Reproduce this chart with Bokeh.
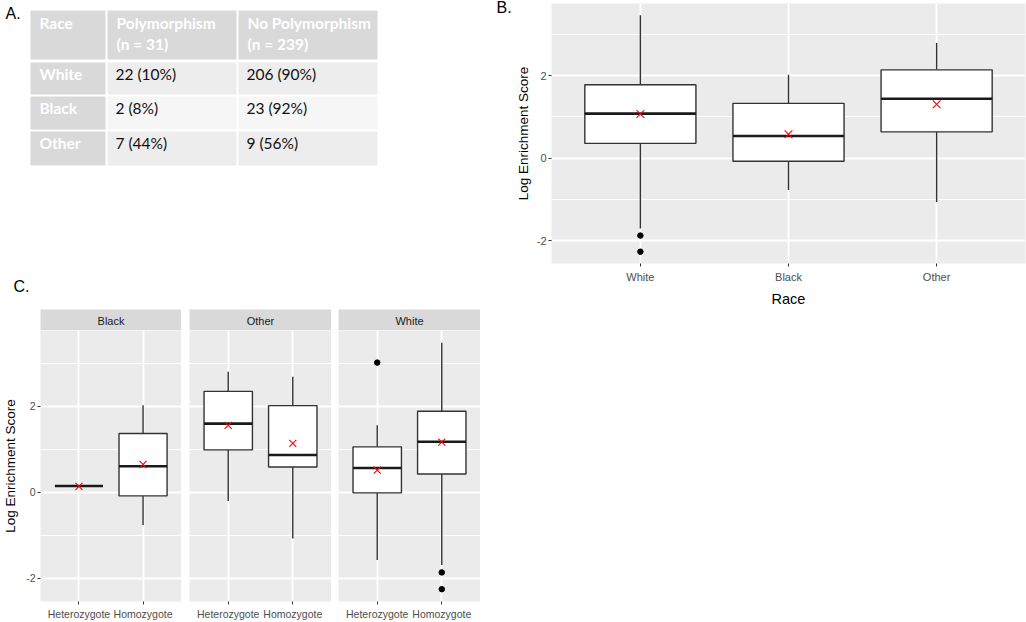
from bokeh.plotting import figure
from bokeh.models import Range1d, FixedTicker, ColumnDataSource, FactorRange, Grid, PrintfTickFormatter
from bokeh.layouts import row, column
from bokeh.transform import dodge
from bokeh.embed import file_html
from bokeh.resources import INLINE
from bokeh.core.properties import value

# ---------------- Data ----------------
# Panel A: table
table_head_1 = ["Race", "Polymorphism", "No Polymorphism"]
table_head_2 = ["", "(n = 31)", "(n = 239)"]
races = ["White", "Black", "Other"]
poly_n = [22, 2, 7]
poly_pct = [10, 8, 44]
nopoly_n = [206, 23, 9]
nopoly_pct = [90, 92, 56]

# Panel B: box plots by race
b_cats = ["White", "Black", "Other"]
b_lower = [-1.70, -0.77, -1.06]
b_q1 = [0.36, -0.07, 0.64]
b_med = [1.08, 0.54, 1.44]
b_q3 = [1.78, 1.33, 2.14]
b_upper = [3.46, 2.02, 2.79]
b_mean = [1.07, 0.58, 1.31]
b_out_cat = ["White", "White"]
b_out_val = [-1.87, -2.26]

# Panel C: box plots by genotype, faceted by race
c_facets = ["Black", "Other", "White"]
c_genotypes = ["Heterozygote", "Homozygote"]
c_facet = ["Black", "Black", "Other", "Other", "White", "White"]
c_geno = ["Heterozygote", "Homozygote"] * 3
c_lower = [0.14, -0.77, -0.21, -1.08, -1.58, -1.70]
c_q1 = [0.14, -0.09, 0.98, 0.58, -0.02, 0.42]
c_med = [0.14, 0.60, 1.59, 0.86, 0.56, 1.17]
c_q3 = [0.14, 1.36, 2.34, 2.01, 1.05, 1.88]
c_upper = [0.14, 2.02, 2.80, 2.68, 1.55, 3.47]
c_mean = [0.13, 0.64, 1.55, 1.13, 0.51, 1.16]
c_out_facet = ["White", "White", "White"]
c_out_geno = ["Heterozygote", "Homozygote", "Homozygote"]
c_out_val = [3.01, -1.87, -2.26]

y_ticks = [-2, 0, 2]
y_minor = [-1, 1, 3]

# ---------------- Styles ----------------
PF = "Liberation Sans"
TF = "Lato"
BG = "#EBEBEB"
LINE = "#333333"


def expand_range(vals):
    lo, hi = min(vals), max(vals)
    pad = 0.05 * (hi - lo)
    return Range1d(lo - pad, hi + pad)


def style_plot(p, tick_size):
    p.background_fill_color = BG
    p.border_fill_color = "white"
    p.outline_line_color = None
    for ax in p.axis:
        ax.axis_line_color = None
        ax.major_tick_line_color = LINE
        ax.major_tick_out = 3
        ax.major_tick_in = 0
        ax.minor_tick_line_color = None
        ax.major_label_text_color = "#4D4D4D"
        ax.major_label_text_font = PF
        ax.major_label_text_font_size = tick_size
        ax.axis_label_text_font = PF
        ax.axis_label_text_font_style = "normal"
        ax.axis_label_text_color = "black"
    p.xgrid.grid_line_color = "white"
    p.xgrid.grid_line_width = 1.8
    if len(p.ygrid) == 0:
        p.add_layout(Grid(dimension=1, ticker=FixedTicker(ticks=y_ticks, minor_ticks=y_minor)))
    p.ygrid.ticker = FixedTicker(ticks=y_ticks, minor_ticks=y_minor)
    p.ygrid.grid_line_color = "white"
    p.ygrid.grid_line_width = 1.8
    p.ygrid.minor_grid_line_color = "white"
    p.ygrid.minor_grid_line_width = 1.0


def draw_boxes(p, cats, lower, q1, med, q3, upper, mean, out_cat, out_val, xsize):
    w = 0.75
    src = ColumnDataSource(dict(cat=cats, lower=lower, q1=q1, med=med, q3=q3,
                                upper=upper, mean=mean))
    p.segment(x0="cat", y0="q3", x1="cat", y1="upper", source=src, line_color=LINE, line_width=1.4)
    p.segment(x0="cat", y0="q1", x1="cat", y1="lower", source=src, line_color=LINE, line_width=1.4)
    p.vbar(x="cat", bottom="q1", top="q3", width=w, source=src, fill_color="white",
           line_color=LINE, line_width=1.4)
    p.segment(x0=dodge("cat", -w / 2, range=p.x_range), y0="med",
              x1=dodge("cat", w / 2, range=p.x_range), y1="med", source=src,
              line_color="#1A1A1A", line_width=2.6)
    if out_cat:
        p.scatter(x=out_cat, y=out_val, size=5.5, fill_color="black", line_color="black")
    p.scatter(x="cat", y="mean", source=src, marker="x", size=xsize, line_color="red",
              line_width=1.1)


def y_axis(p, label, label_size, tick_size, label_standoff):
    p.yaxis.ticker = FixedTicker(ticks=y_ticks)
    p.yaxis.formatter = PrintfTickFormatter(format="%d")
    p.yaxis.axis_label = label
    p.yaxis.axis_label_text_font_size = label_size
    p.yaxis.axis_label_standoff = label_standoff
    p.yaxis.major_label_standoff = 2


# ---------------- Panel A (table) + panel letters ----------------
TW, TH = 512, 309
pt = figure(width=TW, height=TH, x_range=Range1d(0, TW), y_range=Range1d(TH, 0),
            min_border=0, x_axis_location=None, y_axis_location=None,
            outline_line_color=None, background_fill_color="white",
            border_fill_color="white", output_backend="svg", toolbar_location=None)
pt.grid.visible = False

col_edges = [(30, 105), (107, 236), (238, 377)]
row_edges = [(10, 59), (62, 94), (96, 129), (131, 165)]
band = ["#EDEDED", "#F6F6F6", "#EDEDED"]

ql, qr, qt, qb, qc = [], [], [], [], []
for ri, (t, b) in enumerate(row_edges):
    for ci, (l, r) in enumerate(col_edges):
        ql.append(l); qr.append(r); qt.append(t); qb.append(b)
        if ri == 0 or ci == 0:
            qc.append("#D9D9D9")
        else:
            qc.append(band[ri - 1])
pt.quad(left=ql, right=qr, top=qt, bottom=qb, fill_color=qc, line_color=None)

pad = 9
FS = "15.5px"
hx = [c[0] + pad for c in col_edges]
pt.text(x=hx, y=[22] * 3, text=table_head_1, text_font=value(TF), text_font_size=FS,
        text_font_style="bold", text_color="white", text_baseline="middle")
pt.text(x=hx[1:], y=[43] * 2, text=table_head_2[1:], text_font=value(TF), text_font_size=FS,
        text_font_style="bold", text_color="white", text_baseline="middle")
row_y = [t + 11.5 for (t, b) in row_edges[1:]]
pt.text(x=[hx[0]] * 3, y=row_y, text=races, text_font=value(TF), text_font_size=FS,
        text_font_style="bold", text_color="white", text_baseline="middle")
pt.text(x=[hx[1] - 1] * 3, y=row_y, text=[f"{n} ({p}%)" for n, p in zip(poly_n, poly_pct)],
        text_font=value(TF), text_font_size=FS, text_color="#111111", text_baseline="middle")
pt.text(x=[hx[2] - 1] * 3, y=row_y, text=[f"{n} ({p}%)" for n, p in zip(nopoly_n, nopoly_pct)],
        text_font=value(TF), text_font_size=FS, text_color="#111111", text_baseline="middle")
pt.text(x=[5, 13, 496], y=[4, 277, -2], text=["A.", "C.", "B."], text_font=value(PF),
        text_font_size="16px", text_color="black", text_baseline="top")

# ---------------- Panel C (facets) ----------------
c_all = c_lower + c_upper + c_out_val
cy = expand_range(c_all)
FW = 142
lefts = [39, 8, 7]
facets = []
for k, name in enumerate(c_facets):
    first = k == 0
    lb = lefts[k]
    idx = [i for i, f in enumerate(c_facet) if f == name]
    strip = figure(width=lb + FW, height=21, x_range=Range1d(0, 1), y_range=Range1d(0, 1),
                   min_border_left=lb, min_border_right=0, min_border_top=0, min_border_bottom=0,
                   x_axis_location=None, y_axis_location=None, background_fill_color="#D9D9D9",
                   border_fill_color="white", outline_line_color=None,
                   output_backend="svg", toolbar_location=None)
    strip.grid.visible = False
    strip.text(x=[0.5], y=[0.45], text=[name], text_align="center", text_baseline="middle",
               text_font=value(PF), text_font_size="11px", text_color="#1A1A1A")

    p = figure(width=lb + FW, height=292,
               x_range=FactorRange(factors=list(c_genotypes), range_padding=0.1),
               y_range=cy, min_border_left=lb, min_border_right=0, min_border_top=0,
               min_border_bottom=20, y_axis_location="left" if first else None,
               output_backend="svg", toolbar_location=None)
    if first:
        y_axis(p, "Log Enrichment Score", "13.5px", "10.5px", 5)
    p.xaxis.major_label_standoff = 3
    style_plot(p, "10.5px")
    oc = [g for f, g in zip(c_out_facet, c_out_geno) if f == name]
    ov = [v for f, v in zip(c_out_facet, c_out_val) if f == name]
    draw_boxes(p, [c_geno[i] for i in idx], [c_lower[i] for i in idx], [c_q1[i] for i in idx],
               [c_med[i] for i in idx], [c_q3[i] for i in idx], [c_upper[i] for i in idx],
               [c_mean[i] for i in idx], oc, ov, 10)
    facets.append(column(strip, p, spacing=0))

# ---------------- Panel B ----------------
pb = figure(width=514, height=310,
            x_range=FactorRange(factors=list(b_cats), range_padding=0.2 / 3),
            y_range=expand_range(b_lower + b_upper + b_out_val),
            min_border_left=35, min_border_right=1, min_border_top=3, min_border_bottom=47,
            output_backend="svg", toolbar_location=None)
y_axis(pb, "Log Enrichment Score", "13.5px", "11px", 3)
pb.xaxis.axis_label = "Race"
pb.xaxis.axis_label_text_font_size = "14.5px"
pb.xaxis.axis_label_standoff = 5
pb.xaxis.major_label_standoff = 4
style_plot(pb, "11px")
draw_boxes(pb, b_cats, b_lower, b_q1, b_med, b_q3, b_upper, b_mean, b_out_cat, b_out_val, 11)

layout = row(column(pt, row(*facets, spacing=0), spacing=0), pb, spacing=0)

with open("out.html", "w") as f:
    f.write(file_html(layout, INLINE, title="Log Enrichment Score"))
